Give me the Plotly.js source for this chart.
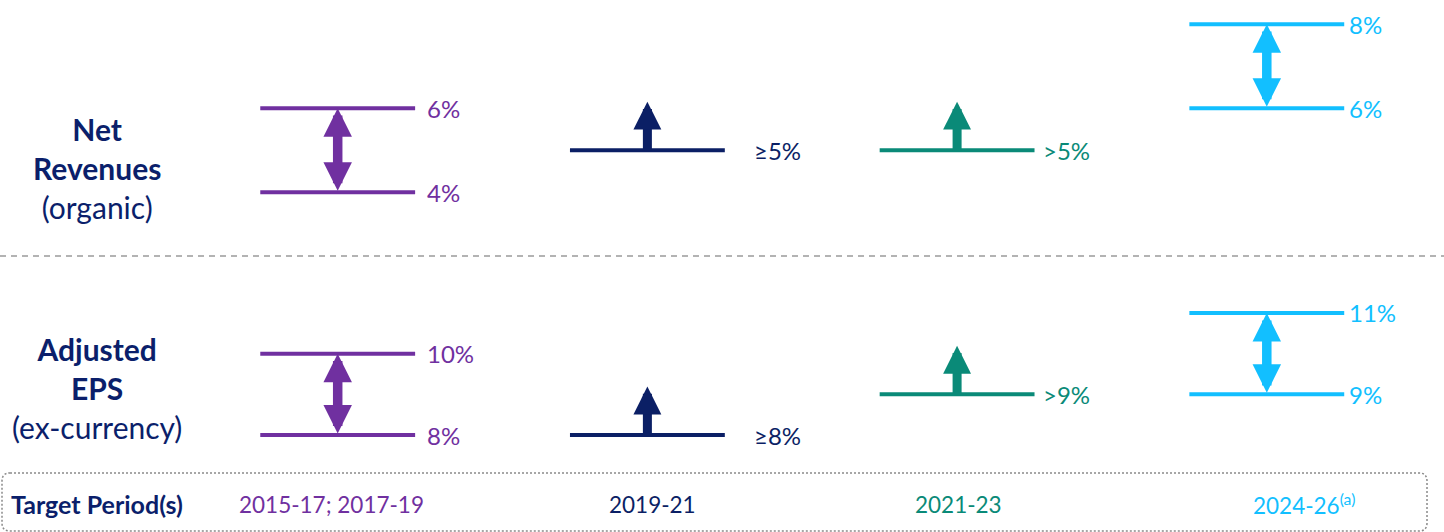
<!DOCTYPE html>
<html><head><meta charset="utf-8">
<script src="https://cdn.plot.ly/plotly-3.0.1.min.js"></script>
<style>html,body{margin:0;padding:0;background:#fff;} #chart{width:1444px;height:532px;}</style>
</head><body><div id="chart"></div>
<script>
// ---- data ----
const periods = ['2015-17; 2017-19', '2019-21', '2021-23', '2024-26'];
const periodNotes = ['', '', '', '(a)'];
const revLow = [4, 5, 5, 6];
const revHigh = [6, null, null, 8];
const revPrefix = ['', '≥', '>', ''];
const epsLow = [8, 8, 9, 9];
const epsHigh = [10, null, null, 11];
const epsPrefix = ['', '≥', '>', ''];
const metricLabels = ['<b>Net<br>Revenues</b><br>(organic)', '<b>Adjusted<br>EPS</b><br>(ex-currency)'];
const rowTitle = 'Target Period(s)';

// ---- style ----
const colors = ['#7030A0', '#0B1F65', '#0A8A78', '#12BFFF'];
const navy = '#0B1F6B';
const FONT = 'Lato, "Open Sans", sans-serif';
const halfW = 0.25;
const labelGap = [10, 27, 6, 3];
const periodShift = [-6, 5, 1, 37];
const W = 1444, H = 532;

const panels = [
  {yref: 'y', low: revLow, high: revHigh, prefix: revPrefix, labelY: 1 - 168 / H},
  {yref: 'y2', low: epsLow, high: epsHigh, prefix: epsPrefix, labelY: 1 - 388 / H}
];

const traces = [];
const annotations = [];

panels.forEach((p, pi) => {
  periods.forEach((per, i) => {
    const c = colors[i];
    const xs = [i - halfW, i + halfW];
    const ys = [p.low[i], p.low[i]];
    if (p.high[i] != null) {
      xs.push(null, i - halfW, i + halfW);
      ys.push(null, p.high[i], p.high[i]);
    }
    traces.push({
      type: 'scatter', mode: 'lines', x: xs, y: ys,
      xaxis: 'x', yaxis: p.yref,
      line: {color: c, width: 4}, hoverinfo: 'skip'
    });
    annotations.push({
      x: i + halfW, y: p.low[i], xref: 'x', yref: p.yref,
      xanchor: 'left', yanchor: 'middle', xshift: labelGap[i],
      text: p.prefix[i] + p.low[i] + '%', showarrow: false,
      font: {family: FONT, size: 24, color: c}
    });
    if (p.high[i] != null) {
      annotations.push({
        x: i + halfW, y: p.high[i], xref: 'x', yref: p.yref,
        xanchor: 'left', yanchor: 'middle', xshift: labelGap[i],
        text: p.high[i] + '%', showarrow: false,
        font: {family: FONT, size: 24, color: c}
      });
      annotations.push({
        x: i, y: p.high[i], xref: 'x', yref: p.yref,
        ax: i, ay: p.low[i], axref: 'x', ayref: p.yref,
        text: '', showarrow: true, arrowside: 'end+start',
        arrowhead: 2, startarrowhead: 2, arrowsize: 0.6, startarrowsize: 0.6,
        arrowwidth: 9.5, arrowcolor: c
      });
    } else {
      annotations.push({
        x: i, y: p.low[i], xref: 'x', yref: p.yref,
        ax: 0, ay: -50,
        text: '', showarrow: true, arrowside: 'start',
        arrowhead: 2, startarrowhead: 2, arrowsize: 0.62, startarrowsize: 0.62,
        arrowwidth: 9, arrowcolor: c
      });
    }
  });
  annotations.push({
    x: 97 / W, y: p.labelY, xref: 'paper', yref: 'paper',
    xanchor: 'center', yanchor: 'middle', align: 'center',
    text: metricLabels[pi], showarrow: false,
    font: {family: FONT, size: 30, color: navy}
  });
});

// bottom row
annotations.push({
  x: 9 / W, y: 1 - 504 / H, xref: 'paper', yref: 'paper',
  xanchor: 'left', yanchor: 'middle',
  text: '<b>' + rowTitle + '</b>', showarrow: false,
  font: {family: FONT, size: 25, color: navy}
});
periods.forEach((per, i) => {
  annotations.push({
    x: i, y: 1 - 504 / H, xref: 'x', yref: 'paper',
    xanchor: 'center', yanchor: 'middle', xshift: periodShift[i],
    text: per + (periodNotes[i] ? '<sup>' + periodNotes[i] + '</sup>' : ''),
    showarrow: false,
    font: {family: FONT, size: 22.5, color: colors[i]}
  });
});

// rounded dotted box path (paper coords)
function px(x) { return (x / W).toFixed(5); }
function py(y) { return (1 - y / H).toFixed(5); }
const bx0 = 2, bx1 = 1427, by0 = 473, by1 = 531, r = 8;
const boxPath = 'M' + px(bx0 + r) + ',' + py(by0) +
  ' L' + px(bx1 - r) + ',' + py(by0) +
  ' Q' + px(bx1) + ',' + py(by0) + ' ' + px(bx1) + ',' + py(by0 + r) +
  ' L' + px(bx1) + ',' + py(by1 - r) +
  ' Q' + px(bx1) + ',' + py(by1) + ' ' + px(bx1 - r) + ',' + py(by1) +
  ' L' + px(bx0 + r) + ',' + py(by1) +
  ' Q' + px(bx0) + ',' + py(by1) + ' ' + px(bx0) + ',' + py(by1 - r) +
  ' L' + px(bx0) + ',' + py(by0 + r) +
  ' Q' + px(bx0) + ',' + py(by0) + ' ' + px(bx0 + r) + ',' + py(by0) + ' Z';

const hidden = {showgrid: false, zeroline: false, showticklabels: false, showline: false, ticks: '', fixedrange: true};

const layout = {
  width: W, height: H,
  margin: {l: 0, r: 0, t: 0, b: 0},
  paper_bgcolor: '#fff', plot_bgcolor: 'rgba(0,0,0,0)',
  showlegend: false,
  font: {family: FONT},
  xaxis: Object.assign({range: [-1.0904, 3.5722], domain: [0, 1]}, hidden),
  yaxis: Object.assign({range: [2.2425, 8.576], domain: [0.5, 1]}, hidden),
  yaxis2: Object.assign({range: [5.615, 12.155], domain: [0, 0.5]}, hidden),
  annotations: annotations,
  shapes: [
    {type: 'line', xref: 'paper', yref: 'paper', x0: 0, x1: 1, y0: 1 - 256 / H, y1: 1 - 256 / H,
     line: {color: '#9a9a9a', width: 1.5, dash: '6px,5px'}},
    {type: 'path', xref: 'paper', yref: 'paper', path: boxPath,
     line: {color: '#8a8a8a', width: 1.5, dash: '2px,2px'}}
  ]
};

Plotly.newPlot('chart', traces, layout, {displayModeBar: false, staticPlot: true});
</script>
</body></html>
